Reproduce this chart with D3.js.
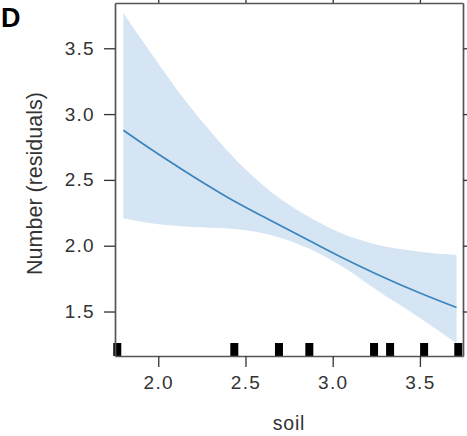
<!DOCTYPE html>
<html>
<head>
<meta charset="utf-8">
<script src="https://cdn.jsdelivr.net/npm/d3@7"></script>
<style>
  html, body { margin: 0; padding: 0; background: #fff; }
  svg { display: block; font-family: "Liberation Sans", Arial, sans-serif; }
</style>
</head>
<body>
<svg id="chart" width="467" height="436"></svg>
<script>
// Fitted partial-residual curve for soil with its confidence band
const soilGrid  = [1.80, 1.95, 2.15, 2.35, 2.45, 2.65, 2.87, 3.05, 3.25, 3.50, 3.71];
const fitValues = [2.877, 2.740, 2.568, 2.405, 2.328, 2.188, 2.035, 1.912, 1.785, 1.640, 1.530];
const upperBand = [3.766, 3.480, 3.110, 2.790, 2.645, 2.405, 2.215, 2.095, 2.010, 1.955, 1.930];
const lowerBand = [2.208, 2.172, 2.146, 2.134, 2.125, 2.080, 1.975, 1.845, 1.665, 1.450, 1.258];

// Observed soil values shown as a rug along the x axis
const rugValues = [1.765, 2.436, 2.692, 2.866, 3.237, 3.329, 3.524, 3.72];

const xTicks = [2.0, 2.5, 3.0, 3.5];
const yTicks = [1.5, 2.0, 2.5, 3.0, 3.5];

const panelLabel = "D";
const xTitle = "soil";
const yTitle = "Number (residuals)";

const svg = d3.select("#chart");
const plotLeft = 115, plotRight = 463, plotTop = 3, plotBottom = 356;

const x = d3.scaleLinear().domain([1.752, 3.747]).range([plotLeft, plotRight]);
const y = d3.scaleLinear().domain([1.162, 3.844]).range([plotBottom, plotTop]);

const curve = soilGrid.map((s, i) => ({ s, fit: fitValues[i], lo: lowerBand[i], hi: upperBand[i] }));

// Confidence band
svg.append("path")
  .datum(curve)
  .attr("fill", "#d5e5f3")
  .attr("d", d3.area()
    .x(d => x(d.s))
    .y0(d => y(d.lo))
    .y1(d => y(d.hi))
    .curve(d3.curveMonotoneX));

// Fitted line
svg.append("path")
  .datum(curve)
  .attr("fill", "none")
  .attr("stroke", "#3b84bd")
  .attr("stroke-width", 1.7)
  .attr("d", d3.line()
    .x(d => x(d.s))
    .y(d => y(d.fit))
    .curve(d3.curveMonotoneX));

// Rug
const rugH = 13, rugW = 8;
svg.append("g")
  .selectAll("rect")
  .data(rugValues)
  .join("rect")
  .attr("x", d => x(d) - rugW / 2)
  .attr("y", plotBottom - rugH)
  .attr("width", rugW)
  .attr("height", rugH)
  .attr("fill", "#000");

// Axes
const tickLen = 11;
const styleAxis = g => {
  g.select(".domain").attr("stroke", "#555").attr("stroke-width", 1.7);
  g.selectAll(".tick line").attr("stroke", "#333").attr("stroke-width", 1.3);
  g.selectAll(".tick text")
    .attr("fill", "#333")
    .style("font-size", "19px")
    .style("letter-spacing", "1.3px");
};

svg.append("g")
  .attr("transform", `translate(0,${plotBottom})`)
  .call(d3.axisBottom(x).tickValues(xTicks).tickFormat(d3.format(".1f"))
    .tickSizeInner(tickLen).tickSizeOuter(0).tickPadding(9))
  .call(styleAxis);

svg.append("g")
  .attr("transform", `translate(${plotLeft},0)`)
  .call(d3.axisLeft(y).tickValues(yTicks).tickFormat(d3.format(".1f"))
    .tickSizeInner(tickLen).tickSizeOuter(0).tickPadding(9))
  .call(styleAxis);

svg.append("g")
  .attr("transform", `translate(0,${plotTop})`)
  .call(d3.axisTop(x).tickValues(xTicks).tickFormat("")
    .tickSizeInner(tickLen).tickSizeOuter(0))
  .call(styleAxis);

svg.append("g")
  .attr("transform", `translate(${plotRight},0)`)
  .call(d3.axisRight(y).tickValues(yTicks).tickFormat("")
    .tickSizeInner(tickLen).tickSizeOuter(0))
  .call(styleAxis);

// Axis titles
svg.append("text")
  .attr("x", (plotLeft + plotRight) / 2)
  .attr("y", 430)
  .attr("text-anchor", "middle")
  .attr("fill", "#333")
  .style("font-size", "19.5px")
  .style("letter-spacing", "0.8px")
  .text(xTitle);

svg.append("text")
  .attr("transform", `translate(42,${(plotTop + plotBottom) / 2 + 4}) rotate(-90)`)
  .attr("text-anchor", "middle")
  .attr("fill", "#333")
  .style("font-size", "21.5px")
  .text(yTitle);

// Panel label
svg.append("text")
  .attr("x", 1)
  .attr("y", 27)
  .attr("fill", "#000")
  .style("font-size", "27px")
  .style("font-weight", "bold")
  .text(panelLabel);
</script>
</body>
</html>
